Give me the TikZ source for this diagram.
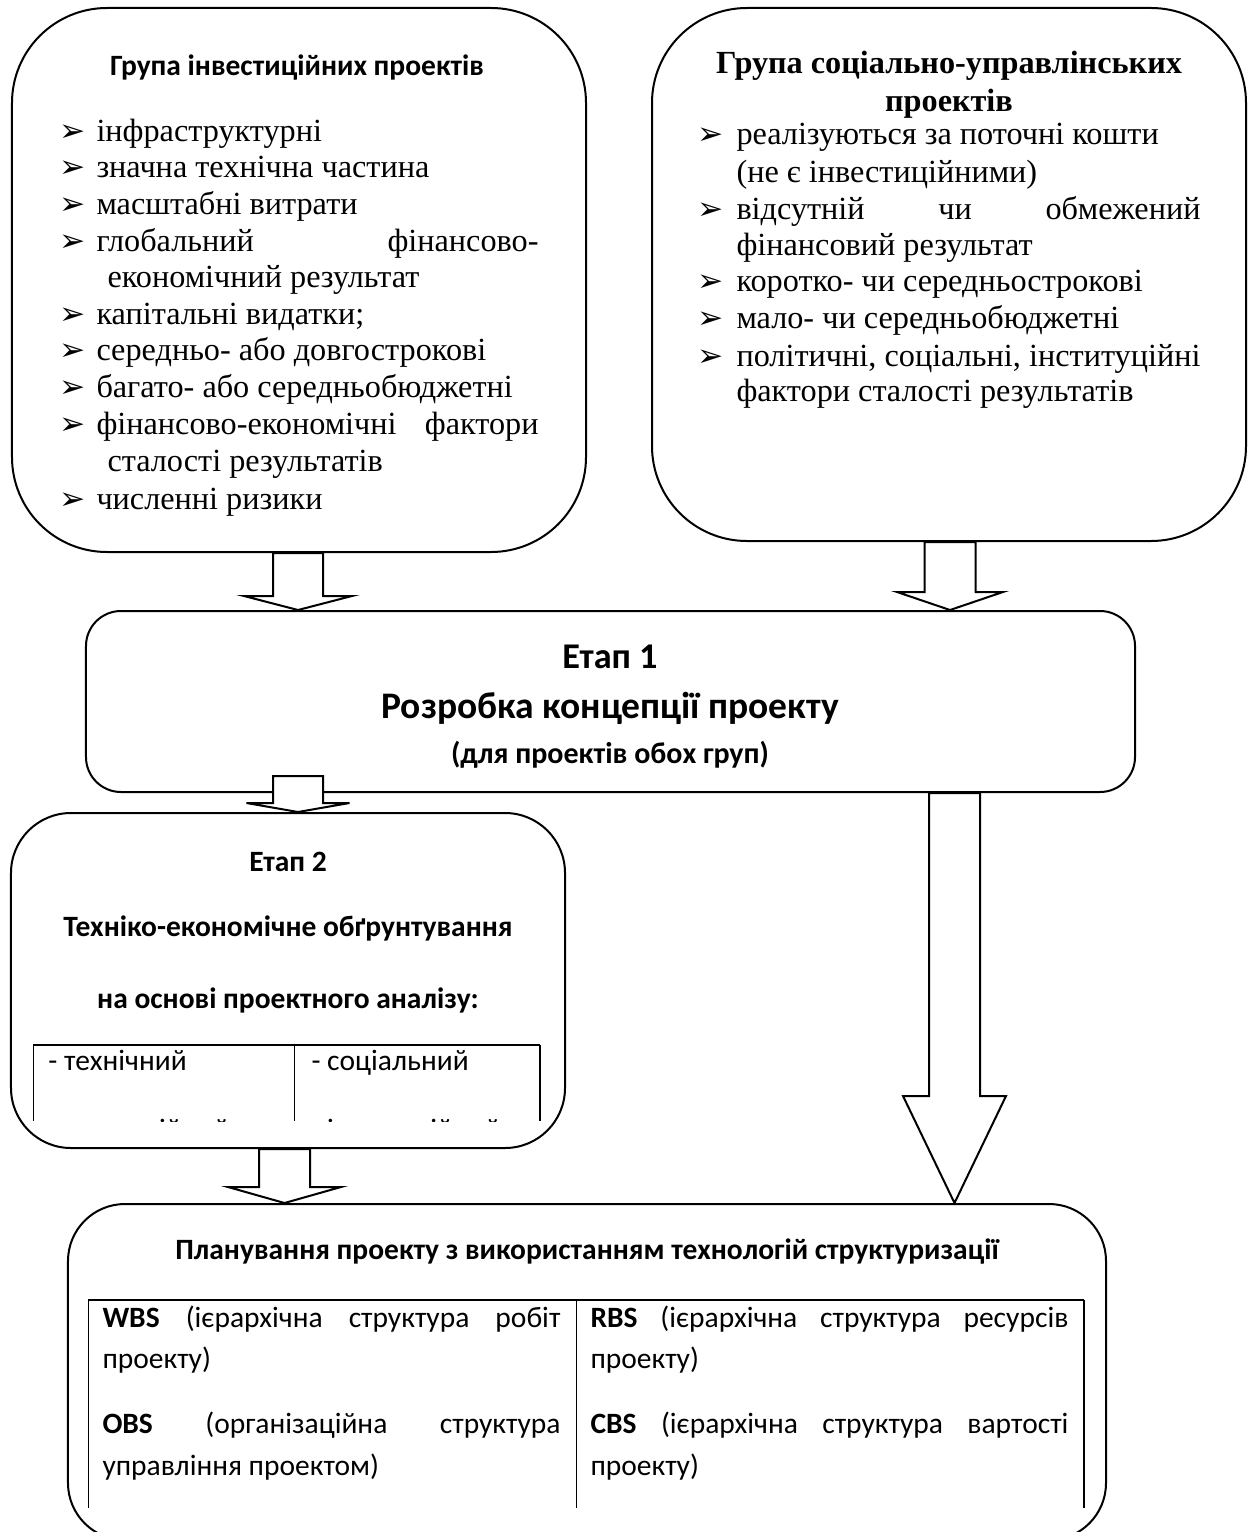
\documentclass[tikz,border=0pt]{standalone}
\usepackage{fontspec}
\setmainfont{Liberation Serif}
\newfontfamily\calfont{Carlito}
\newfontfamily\dingfont{DejaVu Sans}
\usetikzlibrary{calc}

% hollow block arrow: from, to, x, shaft half width, head half width, head length, start overlap
\newcommand\hollowarrow[7]{%
  \draw[hollow] ($(#1.south -| #3)+(-#4,-#7)$) -- ($(#2.north -| #3)+(-#4,-#6)$)
    -- ($(#2.north -| #3)+(-#5,-#6)$) -- (#2.north -| #3)
    -- ($(#2.north -| #3)+(#5,-#6)$) -- ($(#2.north -| #3)+(#4,-#6)$)
    -- ($(#1.south -| #3)+(#4,-#7)$) -- cycle;}

\begin{document}
\begin{tikzpicture}[x=0.4pt,y=-0.4pt,
  box/.style={draw,line width=0.8pt,rounded corners=#1,inner sep=0pt},
  hollow/.style={draw,line width=0.8pt,fill=white},
  item/.style={anchor=mid west,inner sep=0pt,font=\fontsize{12.9}{14}\selectfont},
  arrowbullet/.style={anchor=mid west,inner sep=0pt,font=\dingfont\fontsize{12.5}{13}\selectfont},
  headline/.style={inner sep=0pt,font=\calfont\bfseries\fontsize{11.8}{13}\selectfont},
  cell/.style={anchor=mid west,inner sep=0pt,font=\calfont\fontsize{11.8}{13}\selectfont},
  tabline/.style={line width=0.4pt}]
\useasboundingbox (0,0) rectangle (1251,1532);
\clip (0,0) rectangle (1251,1532);

% boxes
\node[box=38pt,minimum width=229.6pt,minimum height=217.6pt] (invgroup) at (299,280) {};
\node[box=38pt,minimum width=237.6pt,minimum height=213.2pt] (socgroup) at (949,274.5) {};
\node[box=14pt,minimum width=419.6pt,minimum height=72.4pt] (stage1) at (610.5,701.5) {};
\node[box=24pt,minimum width=221.6pt,minimum height=134pt] (stage2) at (288,980.5) {};
\node[box=22.8pt,minimum width=415.2pt,minimum height=134.4pt] (planning) at (587,1372) {};

% investment group
\node[headline] (invtitle) at (297,68) {Група інвестиційних проектів};
\foreach \x/\y/\t [count=\i] in {
  96/136/інфраструктурні,
  96/172/значна технічна частина,
  96/209/масштабні витрати,
  96/246/\makebox[176.8pt][s]{глобальний фінансово-},
  107/282/економічний результат,
  96/319/капітальні видатки;,
  96/355/середньо- або довгострокові,
  96/392/багато- або середньобюджетні,
  96/429/\makebox[176.8pt][s]{фінансово-економічні фактори},
  107/466/сталості результатів,
  96/504/численні ризики%
}
\node[item] (inv\i) at (\x,\y) {\t};
\foreach \y in {136,172,209,246,319,355,392,429,504}
\node[arrowbullet] (invb\y) at (59,\y) {➢};

% social group
\node[inner sep=0pt,font=\bfseries\fontsize{12.9}{14}\selectfont] (soctitle) at (949,66) {Група соціально-управлінських};
\node[inner sep=0pt,font=\bfseries\fontsize{12.9}{14}\selectfont] (soctitle2) at (949,104) {проектів};
\foreach \x/\y/\t [count=\i] in {
  736/139/реалізуються за поточні кошти,
  736/177/{(не є інвестиційними)},
  736/214/\makebox[185.6pt][s]{відсутній чи обмежений},
  736/250/фінансовий результат,
  736/286/коротко- чи середньострокові,
  736/323/мало- чи середньобюджетні,
  736/361/{\makebox[185.6pt][s]{політичні, соціальні, інституційні}},
  736/396/фактори сталості результатів%
}
\node[item] (soc\i) at (\x,\y) {\t};
\foreach \y in {139,214,286,323,361}
\node[arrowbullet] (socb\y) at (697,\y) {➢};

% stage 1
\node[headline,font=\calfont\bfseries\fontsize{14.5}{16}\selectfont] (st1a) at (610,657) {Етап 1};
\node[headline,font=\calfont\bfseries\fontsize{15}{17}\selectfont] (st1b) at (610,708) {Розробка концепції проекту};
\node[headline,font=\calfont\bfseries\fontsize{12}{13}\selectfont] (st1c) at (610,755) {(для проектів обох груп)};

% stage 2
\node[headline] (st2a) at (288,862) {Етап 2};
\node[headline] (st2b) at (288,928) {Техніко-економічне обґрунтування};
\node[headline] (st2c) at (288,1000) {на основі проектного аналізу:};
\draw[line width=0.8pt] (33,1045) -- (540,1045);
\draw[tabline] (33,1045) -- (33,1121) (294,1045) -- (294,1121);
\draw[line width=0.8pt] (540,1045) -- (540,1121);
\node[cell] (st2l1) at (48,1065) {- технічний};
\node[cell] (st2r1) at (311,1065) {- соціальний};
\begin{scope}
\clip (33,1045) rectangle (540,1121);
\node[cell,anchor=base west] (st2l2) at (48,1139) {- комерційний};
\node[cell,anchor=base west] (st2r2) at (311,1139) {- інституційний};
\end{scope}

% planning
\node[headline] (plantitle) at (587,1252) {Планування проекту з використанням технологій структуризації};
\draw[line width=0.8pt] (88,1300) -- (1084,1300);
\draw[tabline] (88,1300) -- (88,1508) (576,1300) -- (576,1508);
\draw[line width=0.8pt] (1084,1300) -- (1084,1508);
\foreach \x/\y/\t [count=\i] in {
  102/1322/\makebox[183.2pt][s]{\textbf{WBS} (ієрархічна структура робіт},
  102/1363/проекту),
  102/1428/\makebox[183.2pt][s]{\textbf{OBS} (організаційна структура},
  102/1470/управління проектом),
  590/1322/\makebox[191.2pt][s]{\textbf{RBS} (ієрархічна структура ресурсів},
  590/1363/проекту),
  590/1428/\makebox[191.2pt][s]{\textbf{CBS} (ієрархічна структура вартості},
  590/1470/проекту)%
}
\node[cell] (plan\i) at (\x,\y) {\t};

% arrows
\coordinate (xa) at (298,0);
\coordinate (xb) at (950,0);
\coordinate (xd) at (284.5,0);
\coordinate (xe) at (954.5,0);
\hollowarrow{invgroup}{stage1}{xa}{25}{54}{14}{0}
\hollowarrow{socgroup}{stage1}{xb}{25.5}{53}{18}{0}
\hollowarrow{stage1}{stage2}{xa}{25}{51.5}{9}{17}
\hollowarrow{stage2}{planning}{xd}{25.5}{56.5}{16}{0}
\hollowarrow{stage1}{planning}{xe}{25.5}{51.5}{107}{0}
\end{tikzpicture}
\end{document}
